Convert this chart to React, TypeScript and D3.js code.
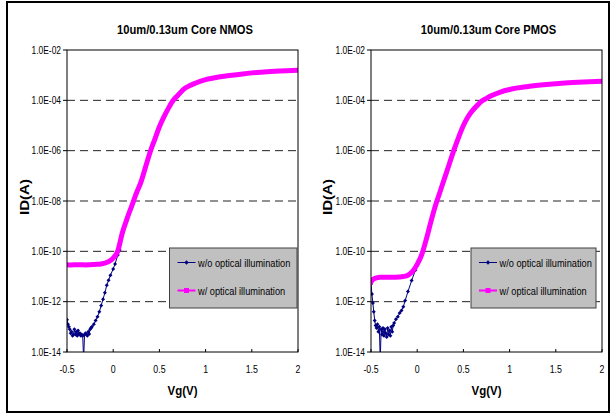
import React from "react";
import * as d3 from "d3";

// axis values
const vgTicks = [-0.5, 0, 0.5, 1, 1.5, 2];
const idTicks = [1e-14, 1e-12, 1e-10, 1e-8, 1e-6, 1e-4, 1e-2];
const gridTicks = [1e-12, 1e-10, 1e-8, 1e-6, 1e-4];
const legendLabels = ["w/o optical illumination", "w/ optical illumination"];
const titles = ["10um/0.13um Core NMOS", "10um/0.13um Core PMOS"];

// NMOS, w/o optical illumination (log10 ID)
const nmosDarkVg = [
  -0.5, -0.49, -0.48, -0.47, -0.46, -0.45, -0.44, -0.43, -0.42, -0.41, -0.4, -0.39, -0.38, -0.37,
  -0.36, -0.35, -0.34, -0.33, -0.32, -0.31, -0.3, -0.29, -0.28, -0.27, -0.26, -0.25, -0.24, -0.23,
  -0.21, -0.19, -0.17, -0.15, -0.13, -0.11, -0.09, -0.07, -0.05, -0.03, 0, 0.02, 0.05, 0.07, 0.1,
];
const nmosDarkLog = [
  -12.72, -12.9, -13.0, -13.1, -13.25, -13.2, -13.35, -13.3, -13.1, -13.3, -13.2, -13.35, -13.15, -13.3,
  -13.25, -13.35, -13.3, -13.35, -14.3, -13.3, -13.25, -13.3, -13.35, -13.2, -13.28, -13.1, -13.05, -13.0,
  -12.9, -12.75, -12.6, -12.4, -12.15, -11.9, -11.65, -11.35, -11.15, -10.95, -10.7, -10.5, -10.15, -9.95, -9.3,
];

// NMOS, w/ optical illumination
const nmosLightVg = [
  -0.5, -0.45, -0.4, -0.35, -0.3, -0.25, -0.2, -0.15, -0.1, -0.05, 0, 0.05, 0.1, 0.15, 0.2, 0.25, 0.3,
  0.35, 0.4, 0.45, 0.5, 0.55, 0.6, 0.65, 0.7, 0.75, 0.8, 0.9, 1.0, 1.1, 1.2, 1.4, 1.6, 1.8, 2.0,
];
const nmosLightLog = [
  -10.53, -10.54, -10.53, -10.53, -10.54, -10.53, -10.52, -10.51, -10.48, -10.41, -10.27, -9.98, -9.25,
  -8.7, -8.2, -7.7, -7.25, -6.65, -6.05, -5.55, -5.05, -4.65, -4.3, -4.0, -3.8, -3.6, -3.47, -3.3, -3.18,
  -3.1, -3.04, -2.95, -2.88, -2.83, -2.8,
];

// PMOS, w/o optical illumination
const pmosDarkVg = [
  -0.5, -0.49, -0.48, -0.47, -0.46, -0.45, -0.44, -0.43, -0.42, -0.41, -0.4, -0.39, -0.38, -0.37, -0.36,
  -0.35, -0.34, -0.33, -0.32, -0.31, -0.3, -0.29, -0.28, -0.27, -0.26, -0.25, -0.23, -0.21, -0.19, -0.17,
  -0.15, -0.13, -0.1, -0.06, -0.02, 0.01, 0.05, 0.1,
];
const pmosDarkLog = [
  -11.3, -11.7, -12.05, -12.4, -12.75, -12.95, -13.05, -12.9, -13.2, -13.0, -14.3, -13.1, -13.3, -13.05, -13.35,
  -13.1, -13.25, -13.4, -13.05, -13.3, -13.15, -13.35, -13.0, -13.2, -12.95, -12.85, -12.7, -12.6, -12.45, -12.35,
  -12.2, -11.95, -11.6, -11.16, -10.75, -10.4, -10.1, -9.5,
];

// PMOS, w/ optical illumination
const pmosLightVg = [
  -0.5, -0.48, -0.45, -0.4, -0.35, -0.3, -0.25, -0.2, -0.15, -0.1, -0.05, 0, 0.05, 0.1, 0.15, 0.2, 0.25,
  0.3, 0.35, 0.4, 0.45, 0.5, 0.55, 0.6, 0.65, 0.7, 0.75, 0.8, 0.9, 1.0, 1.2, 1.4, 1.6, 1.8, 2.0,
];
const pmosLightLog = [
  -11.22, -11.12, -11.06, -11.03, -11.03, -11.03, -11.03, -11.02, -11.0, -10.95, -10.8, -10.52, -10.12,
  -9.5, -8.8, -8.15, -7.6, -7.05, -6.5, -5.95, -5.45, -5.0, -4.65, -4.4, -4.2, -4.03, -3.92, -3.82, -3.67,
  -3.57, -3.45, -3.37, -3.31, -3.27, -3.24,
];

const DARK = "#000080";
const LIGHT = "#ff00ff";
const FONT = "'Liberation Sans', Arial, sans-serif";

// excel export looks horizontally squeezed, so text gets an x-scale
function SText(props: {
  x: number; y: number; sx?: number; size: number; bold?: boolean;
  anchor?: string; rot?: boolean; children: React.ReactNode;
}) {
  const { x, y, sx = 1, size, bold, anchor = "start", rot, children } = props;
  return (
    <text
      transform={`translate(${x},${y})${rot ? " rotate(-90)" : ""} scale(${sx},1)`}
      fontSize={size}
      fontWeight={bold ? "bold" : "normal"}
      textAnchor={anchor}
      fill="#000"
    >
      {children}
    </text>
  );
}

const fmtId = (v: number) => {
  const e = Math.round(Math.log10(v));
  return `1.0E-${String(-e).padStart(2, "0")}`;
};

type PanelProps = {
  id: string;
  title: string;
  left: number;
  right: number;
  titleX: number;
  ylabelX: number;
  legendX: number;
  legendW: number;
  darkVg: number[];
  darkLog: number[];
  lightVg: number[];
  lightLog: number[];
};

function Panel(p: PanelProps) {
  const top = 50, bottom = 352;
  const x = d3.scaleLinear().domain([-0.5, 2]).range([p.left, p.right]);
  const y = d3.scaleLog().domain([1e-14, 1e-2]).range([bottom, top]);

  const smooth = d3.line<[number, number]>()
    .x((d) => x(d[0]))
    .y((d) => y(10 ** d[1]))
    .curve(d3.curveMonotoneX);
  const straight = d3.line<[number, number]>()
    .x((d) => x(d[0]))
    .y((d) => y(10 ** d[1]));

  const dark: [number, number][] = p.darkVg.map((v, i) => [v, p.darkLog[i]]);
  const light: [number, number][] = p.lightVg.map((v, i) => [v, p.lightLog[i]]);
  const diamond = (cx: number, cy: number, r: number) =>
    `M${cx},${cy - r}L${cx + r},${cy}L${cx},${cy + r}L${cx - r},${cy}Z`;

  const lx = p.legendX;
  const rows = [262.5, 290.5];

  return (
    <g fontFamily={FONT}>
      <SText x={p.titleX} y={34} size={13} bold sx={0.86} anchor="middle">{p.title}</SText>

      <defs>
        <clipPath id={p.id}>
          <rect x={p.left} y={top} width={p.right - p.left} height={bottom - top} />
        </clipPath>
      </defs>

      {gridTicks.map((t) => (
        <line key={t} x1={p.left} x2={p.right} y1={y(t)} y2={y(t)}
          stroke="#222" strokeWidth={1} strokeDasharray="8,5" />
      ))}

      <g clipPath={`url(#${p.id})`}>
        <path d={straight(dark) ?? ""} fill="none" stroke={DARK} strokeWidth={1} />
        {dark.map((d, i) => (
          <path key={i} d={diamond(x(d[0]), y(10 ** d[1]), 2)} fill={DARK} />
        ))}
        <path d={smooth(light) ?? ""} fill="none" stroke={LIGHT} strokeWidth={5}
          strokeLinejoin="round" strokeLinecap="square" />
      </g>

      <rect x={p.left} y={top} width={p.right - p.left} height={bottom - top}
        fill="none" stroke="#000" strokeWidth={1} />

      {idTicks.map((t) => (
        <g key={t}>
          <line x1={p.left - 4} x2={p.left} y1={y(t)} y2={y(t)} stroke="#000" />
          <SText x={p.left - 6} y={y(t) + 3.8} size={10.5} sx={0.8} anchor="end">{fmtId(t)}</SText>
        </g>
      ))}
      {vgTicks.map((t) => (
        <g key={t}>
          <line x1={x(t)} x2={x(t)} y1={bottom - 3} y2={bottom} stroke="#000" />
          <SText x={x(t)} y={372.5} size={10} sx={0.88} anchor="middle">{String(t)}</SText>
        </g>
      ))}

      <SText x={(p.left + p.right) / 2} y={395} size={13.5} bold sx={0.85} anchor="middle">Vg(V)</SText>
      <SText x={p.ylabelX} y={197} size={13.5} bold sx={1.12} anchor="middle" rot>ID(A)</SText>

      <rect x={lx} y={248} width={p.legendW} height={60} fill="#c0c0c0" stroke="#404040" strokeWidth={1} />
      <line x1={lx + 8} x2={lx + 26} y1={rows[0]} y2={rows[0]} stroke={DARK} strokeWidth={1} />
      <path d={diamond(lx + 17, rows[0], 2.2)} fill={DARK} />
      <line x1={lx + 8} x2={lx + 26} y1={rows[1]} y2={rows[1]} stroke={LIGHT} strokeWidth={2} />
      <rect x={lx + 14.5} y={rows[1] - 2.5} width={5} height={5} fill={LIGHT} />
      {legendLabels.map((l, i) => (
        <SText key={l} x={lx + 28.5} y={rows[i] + 4} size={11} sx={0.84}>{l}</SText>
      ))}
    </g>
  );
}

export default function App() {
  return (
    <svg width={611} height={414} style={{ position: "absolute", left: 0, top: 0, background: "#fff" }}>
      <rect x={0} y={0} width={611} height={414} fill="#fff" />
      <rect x={7} y={2} width={602} height={410} fill="none" stroke="#000" strokeWidth={2} />
      <Panel id="clipN" title={titles[0]} left={67} right={298} titleX={185} ylabelX={28.5}
        legendX={169.5} legendW={127.5}
        darkVg={nmosDarkVg} darkLog={nmosDarkLog} lightVg={nmosLightVg} lightLog={nmosLightLog} />
      <Panel id="clipP" title={titles[1]} left={371} right={602} titleX={488.5} ylabelX={332}
        legendX={471} legendW={125}
        darkVg={pmosDarkVg} darkLog={pmosDarkLog} lightVg={pmosLightVg} lightLog={pmosLightLog} />
    </svg>
  );
}
